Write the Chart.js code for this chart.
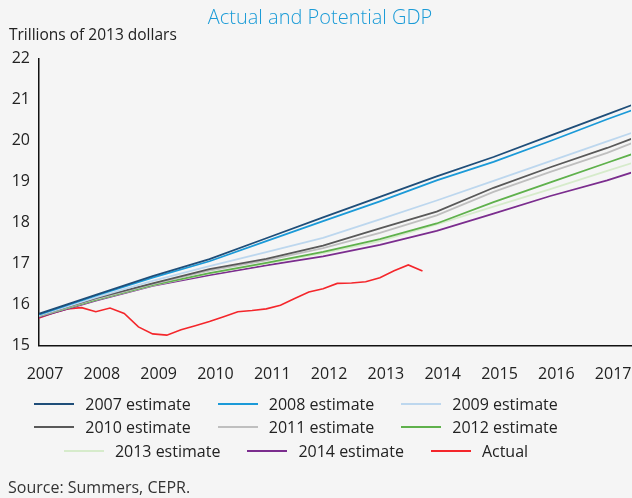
<!DOCTYPE html>
<html lang="en">

<head>
    <meta charset="UTF-8">
    <title>Actual and Potential GDP</title>
    <script src="https://cdn.jsdelivr.net/npm/chart.js"></script>
    <style>
        body {
            margin: 0;
            padding: 0;
            background-color: #f5f5f5;
            font-family: "Open Sans", sans-serif;
        }

        .wrap {
            position: relative;
            width: 632px;
            height: 498px;
        }

        #legend {
            position: absolute;
            top: 392px;
            left: 0;
            width: 592px;
        }

        .legend-row {
            display: flex;
            justify-content: center;
            align-items: center;
            column-gap: 27px;
            height: 23.5px;
        }

        .legend-item {
            display: flex;
            align-items: center;
            font-size: 16px;
            color: #222;
        }

        .legend-item span.swatch {
            display: inline-block;
            width: 40px;
            height: 2px;
            margin-right: 11px;
        }

        .source {
            position: absolute;
            top: 477px;
            left: 8px;
            font-size: 16px;
            line-height: 20px;
            color: #333;
        }
    </style>
</head>

<body>
    <div class="wrap">
        <canvas id="gdpChart" width="632" height="498"></canvas>
        <div id="legend"></div>
        <div class="source">Source: Summers, CEPR.</div>
    </div>

    <script>
        // potential GDP estimates, trillions of 2013 dollars, one value per year
        var years = [2007, 2008, 2009, 2010, 2011, 2012, 2013, 2014, 2015, 2016, 2017, 2017.5];
        var est2007 = [15.78, 16.24, 16.70, 17.11, 17.62, 18.13, 18.63, 19.13, 19.60, 20.12, 20.64, 20.90];
        var est2008 = [15.76, 16.22, 16.66, 17.06, 17.55, 18.04, 18.52, 19.03, 19.48, 19.99, 20.52, 20.77];
        var est2009 = [15.74, 16.18, 16.58, 16.94, 17.28, 17.63, 18.08, 18.54, 19.02, 19.50, 19.98, 20.22];
        var est2010 = [15.74, 16.16, 16.52, 16.87, 17.12, 17.44, 17.86, 18.27, 18.85, 19.35, 19.82, 20.08];
        var est2011 = [15.73, 16.14, 16.50, 16.83, 17.08, 17.38, 17.75, 18.18, 18.75, 19.24, 19.70, 19.97];
        var est2012 = [15.72, 16.12, 16.48, 16.77, 17.02, 17.29, 17.60, 17.98, 18.50, 18.98, 19.46, 19.70];
        var est2013 = [15.72, 16.12, 16.47, 16.76, 17.00, 17.26, 17.55, 17.96, 18.39, 18.82, 19.26, 19.48];
        var est2014 = [15.70, 16.10, 16.46, 16.72, 16.96, 17.18, 17.46, 17.80, 18.22, 18.65, 19.03, 19.25];

        // actual GDP, quarterly 2007Q1 - 2013Q4
        var actualDates = [2007.00, 2007.25, 2007.50, 2007.75, 2008.00, 2008.25, 2008.50, 2008.75,
            2009.00, 2009.25, 2009.50, 2009.75, 2010.00, 2010.25, 2010.50, 2010.75,
            2011.00, 2011.25, 2011.50, 2011.75, 2012.00, 2012.25, 2012.50, 2012.75,
            2013.00, 2013.25, 2013.50, 2013.75];
        var actual = [15.68, 15.80, 15.90, 15.93, 15.83, 15.92, 15.79, 15.46,
            15.29, 15.26, 15.39, 15.49, 15.59, 15.71, 15.83, 15.86,
            15.90, 15.99, 16.15, 16.31, 16.39, 16.52, 16.53, 16.56,
            16.66, 16.83, 16.97, 16.82];

        var yTicks = [15, 16, 17, 18, 19, 20, 21, 22];
        var xTicks = [2007, 2008, 2009, 2010, 2011, 2012, 2013, 2014, 2015, 2016, 2017];

        function pts(xs, ys) {
            return ys.map(function (v, i) { return { x: xs[i], y: v }; });
        }

        function line(label, xs, ys, color) {
            return {
                label: label,
                data: pts(xs, ys),
                borderColor: color,
                backgroundColor: color,
                borderWidth: 1.8,
                pointRadius: 0,
                tension: 0
            };
        }

        var datasets = [
            line('2007 estimate', years, est2007, '#1f4e79'),
            line('2008 estimate', years, est2008, '#1b9ad8'),
            line('2009 estimate', years, est2009, '#bdd7ee'),
            line('2010 estimate', years, est2010, '#595959'),
            line('2011 estimate', years, est2011, '#bfbfbf'),
            line('2012 estimate', years, est2012, '#5fb14c'),
            line('2013 estimate', years, est2013, '#d6ebcb'),
            line('2014 estimate', years, est2014, '#7b2d8e'),
            line('Actual', actualDates, actual, '#f4262b')
        ];
        datasets[8].borderWidth = 1.6;

        var ctx = document.getElementById('gdpChart').getContext('2d');
        var chart = new Chart(ctx, {
            type: 'line',
            data: { datasets: datasets },
            options: {
                responsive: false,
                animation: false,
                layout: { padding: { left: 9, right: 1, top: 0, bottom: 95 } },
                plugins: {
                    legend: { display: false },
                    tooltip: { enabled: false },
                    title: {
                        display: true,
                        text: 'Actual and Potential GDP',
                        color: '#1a9bd7',
                        font: { family: 'Open Sans', size: 20, weight: '300', lineHeight: 1 },
                        padding: { top: 8, bottom: 0 }
                    },
                    subtitle: {
                        display: true,
                        text: 'Trillions of 2013 dollars',
                        align: 'start',
                        color: '#222',
                        font: { family: 'Open Sans', size: 15.5, lineHeight: 1 },
                        padding: { top: 0, bottom: 15 }
                    }
                },
                scales: {
                    x: {
                        type: 'linear',
                        min: 2007,
                        max: 2017.42,
                        afterBuildTicks: function (axis) {
                            axis.ticks = xTicks.map(function (v) { return { value: v }; });
                        },
                        afterFit: function (axis) {
                            axis.paddingLeft = 0;
                            axis.paddingRight = 0;
                        },
                        grid: { display: false, drawTicks: false, tickLength: 0 },
                        border: { display: true, color: '#111', width: 1.5 },
                        ticks: {
                            color: '#222',
                            font: { family: 'Open Sans', size: 16 },
                            padding: 19,
                            labelOffset: 6,
                            maxRotation: 0,
                            autoSkip: false,
                            callback: function (v) { return String(v); }
                        }
                    },
                    y: {
                        min: 15,
                        max: 22,
                        afterBuildTicks: function (axis) {
                            axis.ticks = yTicks.map(function (v) { return { value: v }; });
                        },
                        afterFit: function (axis) {
                            axis.width = 30;
                        },
                        grid: { display: false, drawTicks: false, tickLength: 0 },
                        border: { display: true, color: '#111', width: 1.5 },
                        ticks: {
                            color: '#222',
                            font: { family: 'Open Sans', size: 16 },
                            padding: 9
                        }
                    }
                }
            }
        });

        // html legend, three items per row, built from the chart's datasets
        var legendEl = document.getElementById('legend');
        var row;
        chart.data.datasets.forEach(function (ds, i) {
            if (i % 3 === 0) {
                row = document.createElement('div');
                row.className = 'legend-row';
                legendEl.appendChild(row);
            }
            var item = document.createElement('div');
            item.className = 'legend-item';
            var sw = document.createElement('span');
            sw.className = 'swatch';
            sw.style.backgroundColor = ds.borderColor;
            item.appendChild(sw);
            item.appendChild(document.createTextNode(ds.label));
            row.appendChild(item);
        });
    </script>
</body>

</html>
